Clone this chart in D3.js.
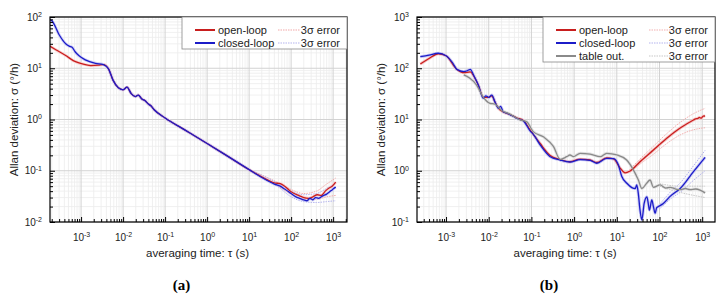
<!DOCTYPE html>
<html>
<head>
<meta charset="utf-8">
<script src="https://cdn.jsdelivr.net/npm/d3@7"></script>
<style>
  body { margin: 0; background: #fff; }
  svg { font-family: "Liberation Sans", Arial, sans-serif; }
</style>
</head>
<body>
<div id="chart"></div>
<script>
// ---- panel (a) data : [tau (s), sigma (deg/h)]
const a_open = [[1.8e-4,27],[2.5e-4,23],[4.3e-4,17.7],[6.5e-4,14.1],[1.26e-3,11.8],[1.7e-3,11.3],[2.6e-3,11.5],[3.4e-3,11.8],
  [4.5e-3,9.7],[5.8e-3,5.8],[7.7e-3,4.15],[1e-2,3.8],[1.24e-2,4.27],[1.56e-2,3.2],[1.95e-2,2.8],[2.3e-2,3.0],[2.8e-2,2.5],
  [3.3e-2,2.35],[4e-2,2.0],[4.6e-2,1.85],[5.5e-2,1.55],[0.1,1.07],[0.3,0.62],[1,0.34],[3,0.195],[10,0.105],[20,0.076],
  [40,0.058],[55,0.056],[70,0.05],[100,0.039],[150,0.033],[200,0.03],[260,0.029],[330,0.031],[420,0.034],[520,0.033],
  [650,0.04],[800,0.046],[950,0.05],[1150,0.06]];
const a_closed = [[1.8e-4,88],[2e-4,85],[3e-4,45],[4.3e-4,30],[5.2e-4,27],[6.1e-4,25.7],[7.2e-4,21],[8.8e-4,17.7],
  [1.26e-3,14.6],[2.2e-3,12.5],[3.4e-3,11.8],[4.5e-3,9.7],[5.8e-3,5.8],[7.7e-3,4.15],[1e-2,3.8],[1.24e-2,4.27],
  [1.56e-2,3.2],[1.95e-2,2.8],[2.3e-2,3.0],[2.8e-2,2.5],[3.3e-2,2.35],[4e-2,2.0],[4.6e-2,1.85],[5.5e-2,1.55],[0.1,1.07],
  [0.3,0.62],[1,0.34],[3,0.195],[10,0.105],[20,0.074],[40,0.055],[55,0.05],[70,0.044],[100,0.036],[130,0.031],
  [160,0.029],[200,0.027],[240,0.026],[280,0.029],[330,0.027],[380,0.03],[450,0.029],[520,0.031],[600,0.033],
  [700,0.035],[800,0.038],[900,0.041],[1000,0.044],[1150,0.048]];
const a_open_errHi = [[10,0.106],[50,0.058],[100,0.043],[200,0.036],[400,0.04],[700,0.055],[1150,0.072]];
const a_open_errLo = [[10,0.1],[50,0.05],[100,0.035],[200,0.028],[400,0.028],[700,0.031],[1150,0.033]];
const a_closed_errHi = [[10,0.106],[50,0.056],[100,0.04],[200,0.034],[400,0.036],[700,0.045],[1150,0.057]];
const a_closed_errLo = [[10,0.1],[50,0.048],[100,0.031],[200,0.025],[400,0.024],[700,0.025],[1150,0.026]];

// ---- panel (b) data
const b_open = [[2.5e-4,121],[4e-4,155],[6.6e-4,192],[1e-3,175],[1.8e-3,95],[2.6e-3,82],[3.7e-3,85],[4.4e-3,72],
  [5.7e-3,47],[7.5e-3,27],[1e-2,27],[1.18e-2,29],[1.4e-2,22],[1.7e-2,16.5],[2.2e-2,14],[3.2e-2,12.5],[4.5e-2,10.8],
  [0.065,9.6],[0.093,6.3],[0.16,3.4],[0.27,2.0],[0.47,1.65],[0.8,1.5],[1.38,1.68],[2.37,1.62],[3.4,1.45],[5.8,1.78],
  [8.4,1.7],[12,1.12],[15.6,0.91],[20.5,0.99],[35,1.5],[72,2.54],[148,4.3],[305,6.8],[625,9.8],[700,10.3],[800,10.5],
  [850,11.0],[950,10.6],[1050,11.6],[1170,11.7]];
const b_closed = [[2.5e-4,168],[4e-4,180],[6.6e-4,196],[1e-3,175],[1.4e-3,130],[1.8e-3,95],[2.6e-3,86],[3.2e-3,90],
  [3.7e-3,95],[4.4e-3,74],[5.7e-3,47],[7.5e-3,26],[8.5e-3,29],[1e-2,27],[1.18e-2,30],[1.4e-2,22],[1.7e-2,16.5],
  [1.9e-2,18],[2.2e-2,14],[2.6e-2,13.5],[3.2e-2,12.3],[3.8e-2,11.5],[4.5e-2,10.5],[0.054,10],[0.065,9.4],[0.093,6.0],
  [0.11,5.2],[0.16,3.2],[0.27,1.9],[0.47,1.62],[0.8,1.48],[1.38,1.65],[2.37,1.6],[3.4,1.4],[5.8,1.75],[8.4,1.72],
  [10.9,1.29],[13.1,0.77],[17.2,0.57],[22.5,0.47],[27,0.45],[29.4,0.53],[32,0.35],[35,0.17],[38.6,0.11],[43.7,0.23],
  [50.6,0.31],[55,0.22],[58,0.17],[66,0.27],[72,0.2],[79,0.148],[86,0.19],[94,0.2],[123,0.23],[180,0.32],[305,0.45],
  [625,0.96],[1170,1.83]];
const b_table = [[2.6e-3,74],[3.5e-3,65],[5.2e-3,47],[7.5e-3,27],[1.07e-2,20.7],[1.4e-2,20],[2e-2,15],[3e-2,13],
  [0.054,9.8],[0.078,9],[0.11,5.8],[0.19,4.6],[0.33,2.95],[0.47,1.67],[0.67,1.88],[0.8,2.03],[0.96,1.88],[1.38,2.19],
  [2.37,2.12],[4.1,1.88],[5.8,2.19],[10,2.03],[17,1.62],[24.6,1.03],[32,0.66],[38.6,0.45],[50,0.57],[60,0.66],
  [72,0.475],[103,0.53],[140,0.46],[178,0.475],[240,0.44],[305,0.43],[400,0.45],[520,0.43],[700,0.44],[890,0.42],[1170,0.37]];
const b_open_errHi = [[20,1.05],[35,1.7],[72,3.0],[148,5.3],[305,8.8],[625,13],[1170,16.5]];
const b_open_errLo = [[20,0.93],[35,1.35],[72,2.1],[148,3.4],[305,5.0],[625,6.3],[1170,6.9]];
const b_closed_errHi = [[100,0.22],[200,0.42],[305,0.58],[625,1.25],[1170,2.5]];
const b_closed_errLo = [[100,0.18],[200,0.3],[305,0.38],[625,0.65],[1170,1.0]];
const b_table_errHi = [[100,0.56],[300,0.5],[1170,0.5]];
const b_table_errLo = [[100,0.5],[300,0.38],[1170,0.3]];

const W = 724, H = 295;
const svg = d3.select("#chart").append("svg").attr("width", W).attr("height", H);

const RED = "#c81e1e", BLUE = "#1c1cc8", GRAY = "#8a8a8a";

function drawPanel(p) {
  const x = d3.scaleLog().domain(p.xDomain).range([p.left, p.right]);
  const y = d3.scaleLog().domain(p.yDomain).range([p.bottom, p.top]);
  const g = svg.append("g");

  // clip
  const clipId = "clip" + p.id;
  svg.append("clipPath").attr("id", clipId).append("rect")
    .attr("x", p.left).attr("y", p.top).attr("width", p.right - p.left).attr("height", p.bottom - p.top);

  const decades = (dom) => {
    const out = [];
    for (let e = Math.floor(Math.log10(dom[0])); e <= Math.ceil(Math.log10(dom[1])); e++) out.push(e);
    return out;
  };
  const majorsX = decades(p.xDomain).map(e => Math.pow(10, e)).filter(v => v >= p.xDomain[0] && v <= p.xDomain[1]);
  const majorsY = decades(p.yDomain).map(e => Math.pow(10, e)).filter(v => v >= p.yDomain[0] && v <= p.yDomain[1]);
  const minors = (dom) => {
    const out = [];
    decades(dom).forEach(e => { for (let k = 2; k <= 9; k++) { const v = k * Math.pow(10, e); if (v > dom[0] && v < dom[1]) out.push(v); } });
    return out;
  };
  const minorsX = minors(p.xDomain), minorsY = minors(p.yDomain);

  // grid
  const grid = g.append("g");
  grid.selectAll(".mx").data(minorsX).join("line")
    .attr("x1", d => x(d)).attr("x2", d => x(d)).attr("y1", p.top).attr("y2", p.bottom)
    .attr("stroke", "#ececec").attr("stroke-width", 0.8);
  grid.selectAll(".my").data(minorsY).join("line")
    .attr("y1", d => y(d)).attr("y2", d => y(d)).attr("x1", p.left).attr("x2", p.right)
    .attr("stroke", "#ececec").attr("stroke-width", 0.8);
  grid.selectAll(".Mx").data(majorsX).join("line")
    .attr("x1", d => x(d)).attr("x2", d => x(d)).attr("y1", p.top).attr("y2", p.bottom)
    .attr("stroke", "#d2d2d2").attr("stroke-width", 1);
  grid.selectAll(".My").data(majorsY).join("line")
    .attr("y1", d => y(d)).attr("y2", d => y(d)).attr("x1", p.left).attr("x2", p.right)
    .attr("stroke", "#d2d2d2").attr("stroke-width", 1);

  const line = d3.line().x(d => x(d[0])).y(d => y(d[1])).curve(d3.curveMonotoneX);
  const plot = g.append("g").attr("clip-path", `url(#${clipId})`);

  // halos + error bounds
  p.series.forEach(s => {
    plot.append("path").datum(s.data).attr("fill", "none").attr("stroke", s.halo)
      .attr("stroke-width", 3).attr("stroke-linejoin", "round").attr("d", line);
  });
  p.series.forEach(s => {
    [s.errHi, s.errLo].forEach(e => {
      plot.append("path").datum(e).attr("fill", "none").attr("stroke", s.errColor)
        .attr("stroke-width", 1).attr("stroke-dasharray", "1.5,1").attr("d", line);
    });
  });
  p.series.forEach(s => {
    plot.append("path").datum(s.data).attr("fill", "none").attr("stroke", s.color)
      .attr("stroke-width", 1.3).attr("stroke-linejoin", "round").attr("d", line);
  });

  // axes (ticks inside)
  const sup = (sel) => sel.selectAll(".tick text").each(function(d) {
    const t = d3.select(this); const e = Math.round(Math.log10(d));
    t.text("10"); t.append("tspan").attr("dy", "-0.55em").attr("font-size", "7px").text(String(e));
  });
  const ax = g.append("g").attr("transform", `translate(0,${p.bottom})`);
  ax.call(d3.axisBottom(x).tickValues(minorsX).tickSize(-3).tickFormat(""));
  const axM = g.append("g").attr("transform", `translate(0,${p.bottom})`);
  axM.call(d3.axisBottom(x).tickValues(majorsX).tickSize(-5).tickPadding(12));
  axM.call(sup);
  const ay = g.append("g").attr("transform", `translate(${p.left},0)`);
  ay.call(d3.axisLeft(y).tickValues(minorsY).tickSize(-3).tickFormat(""));
  const ayM = g.append("g").attr("transform", `translate(${p.left},0)`);
  ayM.call(d3.axisLeft(y).tickValues(majorsY).tickSize(-5).tickPadding(8));
  ayM.call(sup);
  [ax, axM, ay, ayM].forEach(a => {
    a.select(".domain").remove();
    a.selectAll("line").attr("stroke", "#000");
    a.selectAll("text").attr("font-size", "10px").attr("fill", "#222")
      .attr("font-family", "'Liberation Sans', Arial, sans-serif");
  });

  // frame
  g.append("rect").attr("x", p.left).attr("y", p.top).attr("width", p.right - p.left).attr("height", p.bottom - p.top)
    .attr("fill", "none").attr("stroke", "#000").attr("stroke-width", 1.2);

  // legend
  const lg = g.append("g");
  const rows = p.series.length;
  const lx = p.legendX, ly = p.top;
  lg.append("rect").attr("x", lx).attr("y", ly).attr("width", p.right - lx).attr("height", 6 + rows * 13)
    .attr("fill", "#fff").attr("stroke", "#888").attr("stroke-width", 0.8);
  p.series.forEach((s, i) => {
    const yy = ly + 13 + i * 13;
    lg.append("line").attr("x1", lx + 13).attr("x2", lx + 33).attr("y1", yy).attr("y2", yy)
      .attr("stroke", s.color).attr("stroke-width", 2);
    lg.append("text").attr("x", lx + 36).attr("y", yy + 4).attr("font-size", "11px").attr("fill", "#222").text(s.name);
    lg.append("line").attr("x1", lx + p.errOff).attr("x2", lx + p.errOff + 22).attr("y1", yy).attr("y2", yy)
      .attr("stroke", s.errColor).attr("stroke-width", 1.2).attr("stroke-dasharray", "1.5,1");
    lg.append("text").attr("x", p.right - 7).attr("y", yy + 4).attr("text-anchor", "end")
      .attr("font-size", "11px").attr("fill", "#222").text("3σ error");
  });

  // titles
  const cx = (p.left + p.right) / 2;
  g.append("text").attr("x", cx - 1).attr("y", 257).attr("text-anchor", "middle")
    .attr("font-size", "11.5px").attr("fill", "#222").text("averaging time: τ (s)");
  g.append("text").attr("transform", `translate(${p.left - 32},${(p.top + p.bottom) / 2}) rotate(-90)`)
    .attr("text-anchor", "middle").attr("font-size", "11.5px").attr("fill", "#222").text("Allan deviation: σ (°/h)");
  g.append("text").attr("x", cx - 17).attr("y", 290).attr("text-anchor", "middle")
    .attr("font-family", "'Liberation Serif', 'DejaVu Serif', serif").attr("font-weight", "bold")
    .attr("font-size", "15px").attr("fill", "#000").text(p.tag);
}

drawPanel({
  id: "a", tag: "(a)", left: 50, right: 347, top: 17, bottom: 222,
  xDomain: [Math.pow(10, -3.74), Math.pow(10, 3.33)], yDomain: [1e-2, 1e2],
  legendX: 182, errOff: 96,
  series: [
    {name: "open-loop", data: a_open, color: RED, halo: "#f8d0d0", errHi: a_open_errHi, errLo: a_open_errLo, errColor: "#f2a8a8"},
    {name: "closed-loop", data: a_closed, color: BLUE, halo: "#d0d0f6", errHi: a_closed_errHi, errLo: a_closed_errLo, errColor: "#b4b4ee"}
  ]
});

drawPanel({
  id: "b", tag: "(b)", left: 417, right: 715, top: 17, bottom: 222,
  xDomain: [Math.pow(10, -3.68), Math.pow(10, 3.30)], yDomain: [1e-1, 1e3],
  legendX: 543, errOff: 106,
  series: [
    {name: "open-loop", data: b_open, color: RED, halo: "#f6c4c4", errHi: b_open_errHi, errLo: b_open_errLo, errColor: "#f2b0b0"},
    {name: "closed-loop", data: b_closed, color: BLUE, halo: "#c8c8f4", errHi: b_closed_errHi, errLo: b_closed_errLo, errColor: "#b4b4ee"},
    {name: "table out.", data: b_table, color: GRAY, halo: "#e2e2e2", errHi: b_table_errHi, errLo: b_table_errLo, errColor: "#c8c8c8"}
  ]
});
</script>
</body>
</html>
